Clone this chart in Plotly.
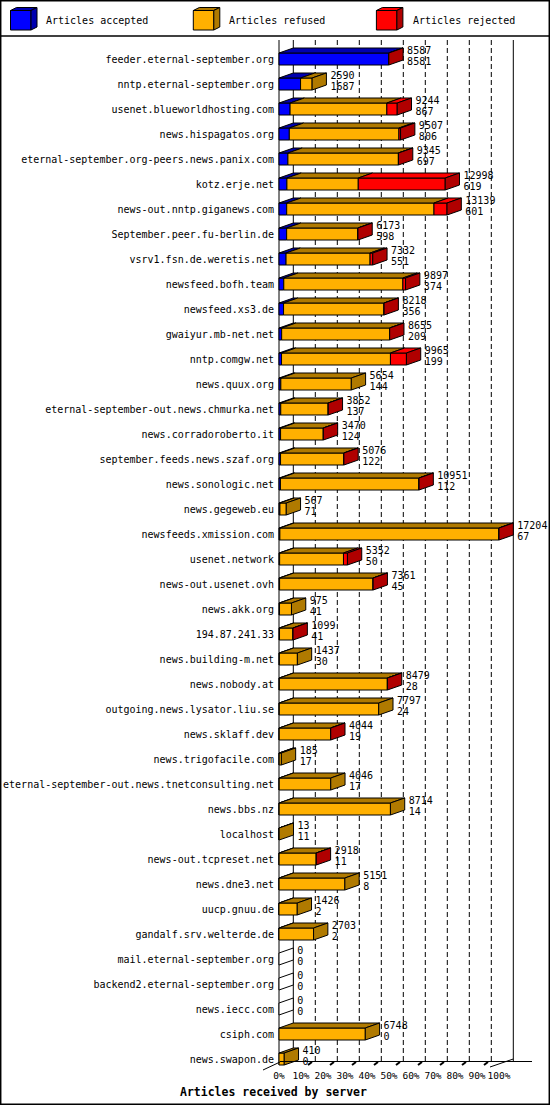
import plotly.graph_objects as go

servers = [
    "feeder.eternal-september.org", "nntp.eternal-september.org", "usenet.blueworldhosting.com",
    "news.hispagatos.org", "eternal-september.org-peers.news.panix.com", "kotz.erje.net",
    "news-out.nntp.giganews.com", "September.peer.fu-berlin.de", "vsrv1.fsn.de.weretis.net",
    "newsfeed.bofh.team", "newsfeed.xs3.de", "gwaiyur.mb-net.net", "nntp.comgw.net",
    "news.quux.org", "eternal-september-out.news.chmurka.net", "news.corradoroberto.it",
    "september.feeds.news.szaf.org", "news.sonologic.net", "news.gegeweb.eu",
    "newsfeeds.xmission.com", "usenet.network", "news-out.usenet.ovh", "news.akk.org",
    "194.87.241.33", "news.building-m.net", "news.nobody.at", "outgoing.news.lysator.liu.se",
    "news.sklaff.dev", "news.trigofacile.com", "eternal-september-out.news.tnetconsulting.net",
    "news.bbs.nz", "localhost", "news-out.tcpreset.net", "news.dne3.net", "uucp.gnuu.de",
    "gandalf.srv.welterde.de", "mail.eternal-september.org", "backend2.eternal-september.org",
    "news.iecc.com", "csiph.com", "news.swapon.de",
]
accepted = [8581, 1687, 867, 806, 697, 619, 601, 598, 551, 374, 356, 209, 199, 144, 137, 124,
            122, 112, 71, 67, 50, 45, 41, 41, 30, 28, 24, 19, 17, 17, 14, 11, 11, 8, 2, 2,
            0, 0, 0, 0, 0]
refused = [0, 903, 7567, 8571, 8638, 5579, 11518, 5570, 6571, 9313, 7857, 8441, 8516, 5510, 3710,
           3341, 4949, 10834, 496, 17132, 4992, 7311, 934, 1053, 1407, 8446, 7773, 4020, 168, 4029,
           8700, 2, 2902, 5143, 1424, 2701, 0, 0, 0, 6748, 410]
rejected = [6, 0, 810, 130, 10, 6800, 1020, 5, 210, 210, 5, 5, 1250, 0, 5, 5, 5, 5, 0, 5, 310, 5,
            0, 5, 0, 5, 0, 5, 0, 0, 0, 0, 5, 0, 0, 0, 0, 0, 0, 0, 0]
series_names = ["Articles accepted", "Articles refused", "Articles rejected"]
x_tick_values = [0, 10, 20, 30, 40, 50, 60, 70, 80, 90, 100]
x_tick_labels = ["0%", "10%", "20%", "30%", "40%", "50%", "60%", "70%", "80%", "90%", "100%"]
axis_title = "Articles received by server"

# styling
front_colors = ["#0000FF", "#FFB000", "#FF0000"]
top_colors = ["#0000B0", "#B07A00", "#FF0000"]
side_colors = ["#0000B0", "#B07A00", "#B00000"]
FONT = "DejaVu Sans Mono"
W, HGT = 550, 1105
L, R, T, B = 277, 533, 37, 1068
PX_PER_PCT = 2.2
ROW = 25.0
X0PX = 279.0
Y0PX = 59.0
BAR_H = 12 / ROW
DX = 14.3 / PX_PER_PCT
DY = 5 / ROW
LABEL_PAD = 4.0 / PX_PER_PCT

n = len(servers)
idx = list(range(n))
series = [accepted, refused, rejected]
totals = [a + b + c for a, b, c in zip(accepted, refused, rejected)]
max_total = max(totals)
pct = [[v / max_total * 100 for v in s] for s in series]
tot_pct = [t / max_total * 100 for t in totals]

fig = go.Figure()

# front faces
base = [0.0] * n
for k in range(3):
    widths = [p if p > 0 else None for p in pct[k]]
    fig.add_trace(go.Bar(
        x=widths, y=idx, base=list(base), orientation="h", width=BAR_H,
        marker=dict(color=front_colors[k], line=dict(color="black", width=1)),
        name=series_names[k], showlegend=False, hoverinfo="skip"))
    base = [b + p for b, p in zip(base, pct[k])]

# top faces
for k in range(3):
    xs, ys = [], []
    start = [sum(pct[j][i] for j in range(k)) for i in range(n)]
    for i in range(n):
        if pct[k][i] <= 0:
            continue
        a, b = start[i], start[i] + pct[k][i]
        yt = i - BAR_H / 2
        xs += [a, b, b + DX, a + DX, a, None]
        ys += [yt, yt, yt - DY, yt - DY, yt, None]
    fig.add_trace(go.Scatter(x=xs, y=ys, mode="lines", fill="toself", fillcolor=top_colors[k],
                             line=dict(color="black", width=1), showlegend=False, hoverinfo="skip"))

# side faces
for k in range(4):
    xs, ys = [], []
    for i in range(n):
        last = -1
        for j in range(3):
            if series[j][i] > 0:
                last = j
        if (last if last >= 0 else 3) != k:
            continue
        t = tot_pct[i]
        yt, yb = i - BAR_H / 2, i + BAR_H / 2
        xs += [t, t + DX, t + DX, t, t, None]
        ys += [yt, yt - DY, yb - DY, yb, yt, None]
    if not xs:
        continue
    fig.add_trace(go.Scatter(x=xs, y=ys, mode="lines", fill="toself",
                             fillcolor=side_colors[k] if k < 3 else "white",
                             line=dict(color="black", width=1), showlegend=False, hoverinfo="skip"))

# value labels
lab_x = [t + DX + LABEL_PAD for t in tot_pct]
fig.add_trace(go.Scatter(x=lab_x, y=[i - 0.29 for i in idx], mode="text",
                         text=[str(t) for t in totals], textposition="middle right",
                         textfont=dict(family=FONT, size=10, color="black"),
                         cliponaxis=False, showlegend=False, hoverinfo="skip"))
fig.add_trace(go.Scatter(x=lab_x, y=[i + 0.15 for i in idx], mode="text",
                         text=[str(a) for a in accepted], textposition="middle right",
                         textfont=dict(family=FONT, size=10, color="black"),
                         cliponaxis=False, showlegend=False, hoverinfo="skip"))


def px2x(px):
    return (px - L) / (R - L)


def px2y(py):
    return (B - py) / (B - T)


shapes = []
y_top = (40 - Y0PX) / ROW
y_back_floor = (1061 - Y0PX) / ROW
y_front_floor = (1065 - Y0PX) / ROW
for k, v in enumerate(x_tick_values):
    solid = k == 0 or k == len(x_tick_values) - 1
    shapes.append(dict(type="line", xref="x", yref="y", x0=v + DX, x1=v + DX, y0=y_top,
                       y1=y_back_floor, layer="below",
                       line=dict(color="black", width=1, dash="solid" if solid else "5px,3px")))
# front axis line
shapes.append(dict(type="line", xref="x", yref="y", x0=0, x1=0, y0=y_top, y1=y_front_floor,
                   layer="below", line=dict(color="black", width=1)))


def pline(x0, y0, x1, y1, w=1):
    shapes.append(dict(type="line", xref="paper", yref="paper", x0=px2x(x0), y0=px2y(y0),
                       x1=px2x(x1), y1=px2y(y1), line=dict(color="black", width=w)))


# floor
pline(280, 1061.5, 532, 1061.5)
pline(263, 1070, 280, 1062)
pline(490, 1067, 513.3, 1059)
for k in range(1, 10):
    fx = X0PX + PX_PER_PCT * 10 * k
    pline(fx + 7, 1065, fx + 11, 1062, 2)

# outer border and legend separator
shapes.append(dict(type="rect", xref="paper", yref="paper", x0=px2x(0.7), x1=px2x(549.3),
                   y0=px2y(1104.3), y1=px2y(0.7), line=dict(color="black", width=1.5)))
pline(0, 36, 550, 36, 1.5)

# legend cubes
legend_x = [10.5, 193.3, 376.4]
text_x = [43.5, 227.0, 410.5]
annotations = []
for k in range(3):
    x0 = legend_x[k]
    x1 = x0 + 20.5
    ya, yb = 10.5, 30
    ddx, ddy = 6, 3

    def path(pts):
        return "M " + " L ".join(f"{px2x(a)},{px2y(b)}" for a, b in pts) + " Z"

    shapes.append(dict(type="path", xref="paper", yref="paper",
                       path=path([(x0, ya), (x1, ya), (x1, yb), (x0, yb)]),
                       fillcolor=front_colors[k], line=dict(color="black", width=1)))
    shapes.append(dict(type="path", xref="paper", yref="paper",
                       path=path([(x0, ya), (x1, ya), (x1 + ddx, ya - ddy), (x0 + ddx, ya - ddy)]),
                       fillcolor=top_colors[k], line=dict(color="black", width=1)))
    shapes.append(dict(type="path", xref="paper", yref="paper",
                       path=path([(x1, ya), (x1 + ddx, ya - ddy), (x1 + ddx, yb - ddy), (x1, yb)]),
                       fillcolor=side_colors[k], line=dict(color="black", width=1)))
    annotations.append(dict(xref="paper", yref="paper", x=px2x(text_x[k]), y=px2y(21),
                            xanchor="left", yanchor="middle", showarrow=False,
                            text=series_names[k], font=dict(family=FONT, size=10, color="black")))

annotations.append(dict(xref="paper", yref="paper", x=px2x(273), y=px2y(1092),
                        xanchor="center", yanchor="middle", showarrow=False, text=axis_title,
                        font=dict(family=FONT, size=11.5, color="black", weight="bold")))

fig.update_layout(
    width=W, height=HGT, template="none",
    paper_bgcolor="white", plot_bgcolor="white",
    margin=dict(l=L, r=W - R, t=T, b=HGT - B, autoexpand=False),
    barmode="overlay", showlegend=False,
    shapes=shapes, annotations=annotations,
    xaxis=dict(range=[(L - X0PX) / PX_PER_PCT, (R - X0PX) / PX_PER_PCT], tickvals=x_tick_values,
               ticktext=x_tick_labels, showgrid=False, zeroline=False, showline=False, ticks="",
               tickangle=0, tickfont=dict(family=FONT, size=9.5, color="black"),
               automargin=False, fixedrange=True),
    yaxis=dict(range=[(B - Y0PX) / ROW, (T - Y0PX) / ROW], tickvals=idx, ticktext=servers,
               showgrid=False, zeroline=False, showline=False, ticks="", ticklabelstandoff=2,
               tickfont=dict(family=FONT, size=10, color="black"), automargin=False, fixedrange=True),
)

fig.write_html(
    "out.html",
    config={"displayModeBar": False},
    post_script="document.body.style.margin='0';document.body.style.overflow='hidden';",
)
